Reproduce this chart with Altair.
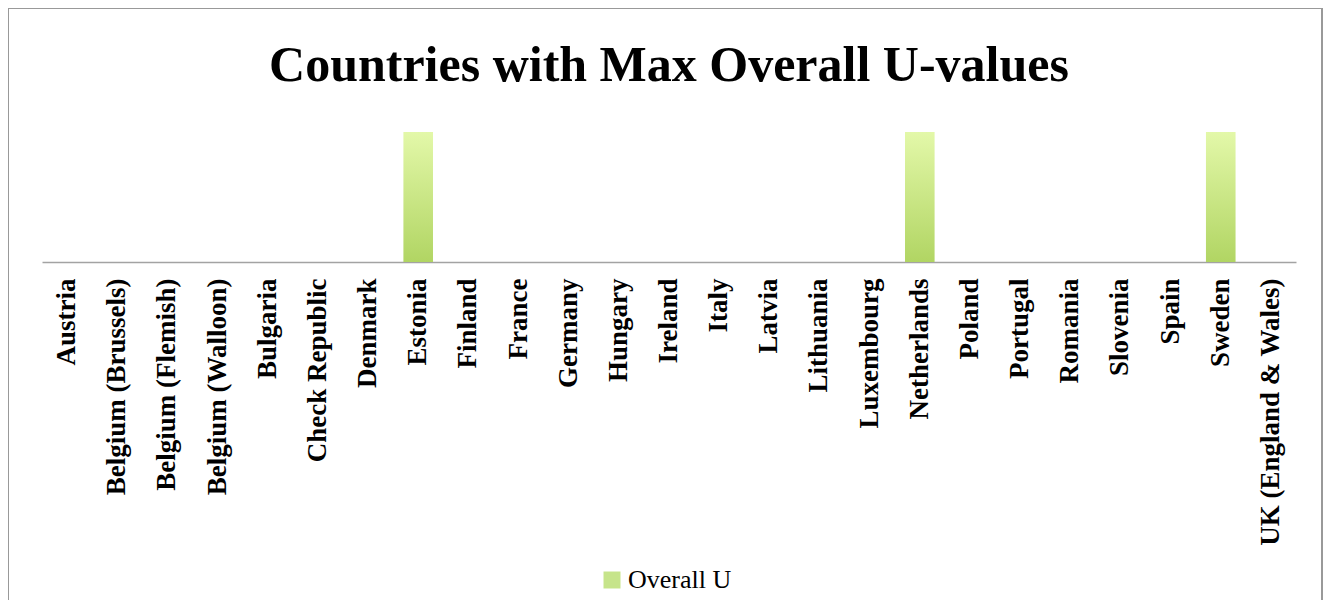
import altair as alt
import pandas as pd

countries = ["Austria", "Belgium (Brussels)", "Belgium (Flemish)", "Belgium (Walloon)",
             "Bulgaria", "Check Republic", "Denmark", "Estonia", "Finland", "France",
             "Germany", "Hungary", "Ireland", "Italy", "Latvia", "Lithuania",
             "Luxembourg", "Netherlands", "Poland", "Portugal", "Romania", "Slovenia",
             "Spain", "Sweden", "UK (England & Wales)"]
overall_u = [0, 0, 0, 0, 0, 0, 0, 1, 0, 0, 0, 0, 0, 0, 0, 0, 0, 1, 0, 0, 0, 0, 0, 1, 0]
series_name = "Overall U"
title_text = "Countries with Max Overall U-values"

df = pd.DataFrame({"country": countries, "value": overall_u, "series": series_name})

FONT = "Liberation Serif"

x_enc = alt.X("country:N", sort=countries, title=None,
              scale=alt.Scale(paddingInner=0.41, paddingOuter=0.205),
              axis=alt.Axis(labelAngle=270, labelAlign="right", labelBaseline="middle",
                            labelFont=FONT, labelFontSize=27, labelFontWeight="bold",
                            labelColor="#000000", labelLimit=0, labelOverlap=False,
                            labelPadding=16, ticks=False, grid=False,
                            domainColor="#a3a3a3", domainWidth=1.5))
y_enc = alt.Y("value:Q", scale=alt.Scale(domain=[0, 1]), axis=None)

grad = alt.Gradient(gradient="linear",
                    stops=[alt.GradientStop(color="#e3f8a9", offset=0),
                           alt.GradientStop(color="#b1d563", offset=1)],
                    x1=0, x2=0, y1=0, y2=1)

bars = alt.Chart(df).mark_bar(color=grad).encode(x=x_enc, y=y_enc)

legend_layer = alt.Chart(df.head(1)).mark_square(opacity=0).encode(
    color=alt.Color("series:N", scale=alt.Scale(range=["#c6e48a"]),
                    legend=alt.Legend(title=None, orient="none", legendX=557, legendY=435,
                                      symbolType="square", symbolSize=289,
                                      symbolOpacity=1, symbolStrokeWidth=0,
                                      labelFont=FONT, labelFontSize=26,
                                      labelColor="#000000", labelOffset=3, padding=0))
)

frame = alt.Chart(pd.DataFrame({"a": [0]})).mark_rect(
    fill="transparent", stroke="#999999", strokeWidth=2
).encode(x=alt.value(-34), x2=alt.value(1280), y=alt.value(-124), y2=alt.value(520))

chart = alt.layer(frame, bars, legend_layer).properties(
    width=1254, height=130,
    title=alt.TitleParams(title_text, font=FONT, fontSize=50, fontWeight="bold",
                          anchor="middle", baseline="alphabetic", offset=-124, color="#000000"),
    autosize=alt.AutoSizeParams(type="none"),
    padding={"left": 34, "top": 124, "right": 27, "bottom": 338},
).configure(background="#ffffff").configure_view(stroke=None)

chart.save("out.html", embed_options={"renderer": "svg", "actions": False})
